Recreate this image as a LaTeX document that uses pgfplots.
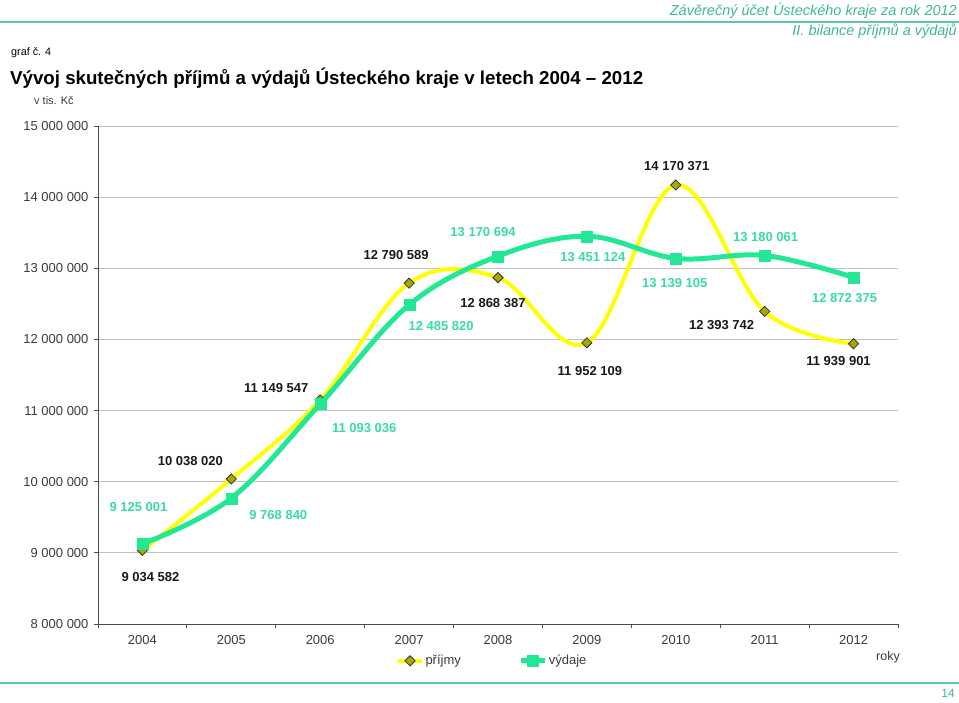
\documentclass[border=0pt]{standalone}
\usepackage{fontspec}
\setmainfont{Liberation Sans}
\usepackage{pgfplots}
\pgfplotsset{compat=1.18}
\definecolor{hdrgreen}{HTML}{3DB894}
\definecolor{hdrline}{HTML}{5CC6AA}
\definecolor{vgreen}{HTML}{22E896}
\definecolor{vtext}{HTML}{3ADB9E}
\definecolor{pyellow}{HTML}{FFFF00}
\definecolor{pmark}{HTML}{A8A800}
\definecolor{ticktext}{HTML}{3A3A3A}
\begin{document}
\begin{tikzpicture}[x=1pt,y=1pt]
\path[use as bounding box] (0,0) rectangle (959,703);
% header
\node[anchor=base east,text=hdrgreen,font=\fontsize{14.5}{16}\selectfont\itshape,inner sep=0] at (957,687.7) {Závěrečný účet Ústeckého kraje za rok 2012};
\draw[hdrline,line width=2pt] (0,681) -- (959,681);
\node[anchor=base east,text=hdrgreen,font=\fontsize{14.5}{16}\selectfont\itshape,inner sep=0] at (957,667.7) {II. bilance příjmů a výdajů};
\node[anchor=west,font=\fontsize{10.8}{12}\selectfont,inner sep=0] at (11,650) {graf č. 4};
\node[anchor=west,font=\fontsize{18.7}{21}\selectfont\bfseries,inner sep=0] at (10,625) {Vývoj skutečných příjmů a výdajů Ústeckého kraje v letech 2004 – 2012};
\node[anchor=west,font=\fontsize{11}{13}\selectfont,text=ticktext,inner sep=0] at (34,602) {v tis. Kč};
\draw[hdrline,line width=2pt] (0,20) -- (959,20);
\node[anchor=east,text=hdrgreen,font=\fontsize{12}{14}\selectfont,inner sep=0] at (955,10) {14};
\begin{axis}[
  at={(98pt,79pt)}, anchor=south west,
  scale only axis, width=800pt, height=498pt,
  xmin=-0.5, xmax=8.5, ymin=8000000, ymax=15000000,
  scaled y ticks=false,
  axis lines*=left,
  axis line style={draw=black!70, line width=0.8pt},
  xtick={0,...,8},
  xticklabels={2004,2005,2006,2007,2008,2009,2010,2011,2012},
  major x tick style={draw=none},
  minor xtick={-0.5,0.5,...,8.5},
  minor tick length=4pt,
  minor x tick style={draw=black!70, line width=0.8pt},
  ytick={8000000,9000000,10000000,11000000,12000000,13000000,14000000,15000000},
  yticklabels={8 000 000,9 000 000,10 000 000,11 000 000,12 000 000,13 000 000,14 000 000,15 000 000},
  major tick length=4pt,
  tick align=outside,
  major y tick style={draw=black!70, line width=0.8pt},
  ymajorgrids,
  grid style={draw=black!25, line width=0.8pt},
  tick label style={font=\fontsize{13}{15}\selectfont, text=ticktext},
  xticklabel style={yshift=-4pt},
  yticklabel style={xshift=-2pt},
  legend style={at={(0.4925,-0.074)}, anchor=center, draw=none, fill=none,
    font=\fontsize{13}{15}\selectfont, text=ticktext,
    nodes={inner xsep=1.5pt},
    /tikz/every even column/.append style={column sep=56pt}},
  legend columns=2,
  legend image code/.code={\draw[#1,mark repeat=2,mark phase=2] plot coordinates {(0pt,0pt) (12pt,0pt) (24pt,0pt)};},
  clip=false,
]
\addplot[pyellow, line width=4pt, smooth, tension=0.6,
  mark=square*, mark size=3.6pt,
  mark options={solid, rotate=45, fill=pmark, draw=black!80, line width=0.8pt}]
  coordinates {(0,9034582) (1,10038020) (2,11149547) (3,12790589) (4,12868387) (5,11952109) (6,14170371) (7,12393742) (8,11939901)};
\addlegendentry{příjmy}
\addplot[vgreen, line width=5pt, smooth, tension=0.6,
  mark=square*, mark size=5.5pt,
  mark options={solid, fill=vgreen, draw=vgreen, line width=0.1pt}]
  coordinates {(0,9125001) (1,9768840) (2,11093036) (3,12485820) (4,13170694) (5,13451124) (6,13139105) (7,13180061) (8,12872375)};
\addlegendentry{výdaje}
% labels
\tikzset{pl/.style={font=\fontsize{13}{15}\selectfont\bfseries, text=black!90, inner sep=0},
         vl/.style={font=\fontsize{13}{15}\selectfont\bfseries, text=vtext, inner sep=0}}
\node[pl,xshift=8pt,yshift=-27pt] at (axis cs:0,9034582) {9 034 582};
\node[pl,xshift=-41pt,yshift=18pt] at (axis cs:1,10038020) {10 038 020};
\node[pl,xshift=-44pt,yshift=12pt] at (axis cs:2,11149547) {11 149 547};
\node[pl,xshift=-13pt,yshift=28pt] at (axis cs:3,12790589) {12 790 589};
\node[pl,xshift=-5pt,yshift=-25pt] at (axis cs:4,12868387) {12 868 387};
\node[pl,xshift=3pt,yshift=-28pt] at (axis cs:5,11952109) {11 952 109};
\node[pl,xshift=1pt,yshift=19pt] at (axis cs:6,14170371) {14 170 371};
\node[pl,xshift=-43pt,yshift=-14pt] at (axis cs:7,12393742) {12 393 742};
\node[pl,xshift=-15pt,yshift=-17pt] at (axis cs:8,11939901) {11 939 901};
\node[vl,xshift=-4pt,yshift=37pt] at (axis cs:0,9125001) {9 125 001};
\node[vl,xshift=47pt,yshift=-17pt] at (axis cs:1,9768840) {9 768 840};
\node[vl,xshift=44pt,yshift=-24pt] at (axis cs:2,11093036) {11 093 036};
\node[vl,xshift=32pt,yshift=-21pt] at (axis cs:3,12485820) {12 485 820};
\node[vl,xshift=-15pt,yshift=24pt] at (axis cs:4,13170694) {13 170 694};
\node[vl,xshift=6pt,yshift=-21pt] at (axis cs:5,13451124) {13 451 124};
\node[vl,xshift=-1pt,yshift=-25pt] at (axis cs:6,13139105) {13 139 105};
\node[vl,xshift=1pt,yshift=18pt] at (axis cs:7,13180061) {13 180 061};
\node[vl,xshift=-9pt,yshift=-21pt] at (axis cs:8,12872375) {12 872 375};
\node[font=\fontsize{12.5}{14}\selectfont, text=ticktext, inner sep=0] at ([xshift=-10pt,yshift=-33pt]rel axis cs:1,0) {roky};
\end{axis}
\end{tikzpicture}
\end{document}
